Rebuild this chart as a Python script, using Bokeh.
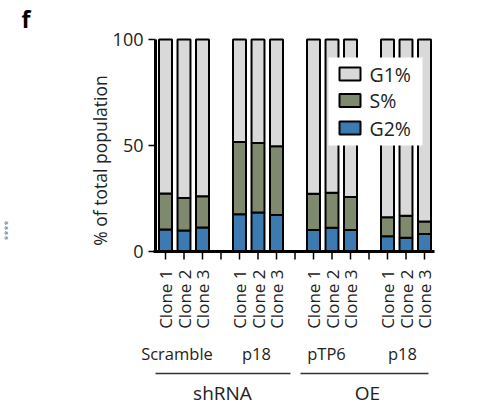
import math
from bokeh.plotting import figure
from bokeh.models import Range1d, ColumnDataSource
from bokeh.core.properties import value
from bokeh.embed import file_html
from bokeh.resources import INLINE

# ---- data ----
clones = ["Clone 1", "Clone 2", "Clone 3"]
constructs = ["Scramble", "p18", "pTP6", "p18"]
families = ["shRNA", "OE"]
phases = ["G1%", "S%", "G2%"]
g2_pct = [10.4, 9.9, 11.3, 17.6, 18.4, 17.2, 10.1, 11.2, 10.2, 7.2, 6.5, 8.2]
s_pct = [17.0, 15.3, 14.8, 34.1, 32.8, 32.4, 17.1, 16.5, 15.5, 9.0, 10.4, 6.0]
g1_pct = [72.6, 74.8, 73.9, 48.3, 48.8, 50.4, 72.8, 72.3, 74.3, 83.8, 83.1, 85.8]
y_ticks = [0, 50, 100]

colors = {"G1%": "#d9d9d9", "S%": "#7f896e", "G2%": "#3c7bb1"}
FONT = "Open Sans"

# ---- layout helpers (pixel -> data) ----
PX0, PXU = 165.0, 18.5
PY0, PYU = 251.0, 2.12
def dx(px):
    return (px - PX0) / PXU
def dy(py):
    return (PY0 - py) / PYU

W, H = 479, 405
p = figure(width=W, height=H, x_range=Range1d(dx(0), dx(W)), y_range=Range1d(dy(H), dy(0)),
           x_axis_type=None, y_axis_type=None, min_border=0, toolbar_location=None,
           output_backend="svg", outline_line_color=None,
           background_fill_color="white", border_fill_color="white")

# positions: 4 groups of 3 clones, one gap slot between groups
pos = []
labels = []
for gi in range(len(constructs)):
    for ci, c in enumerate(clones):
        pos.append(gi * 4 + ci)
        labels.append(c)

src = ColumnDataSource(dict(x=pos, g2=g2_pct, s=s_pct, g1=g1_pct))
p.vbar_stack(["g2", "s", "g1"], x="x", width=0.7, source=src,
             fill_color=[colors["G2%"], colors["S%"], colors["G1%"]],
             line_color="black", line_width=2)

# ---- y axis (drawn) ----
xa = dx(155)
p.segment(x0=[xa], y0=[dy(252)], x1=[xa], y1=[max(y_ticks)], line_color="black", line_width=3)
p.segment(x0=[dx(148)] * len(y_ticks), y0=y_ticks, x1=[xa] * len(y_ticks), y1=y_ticks,
          line_color="black", line_width=1.5)
p.text(x=[dx(143)] * len(y_ticks), y=y_ticks, text=[str(t) for t in y_ticks],
       text_font=value(FONT), text_font_size="18px", text_align="right",
       text_baseline="middle", text_color="#222222")
p.text(x=[dx(99)], y=[dy(160)], text=["% of total population"], angle=math.pi / 2,
       text_font=value(FONT), text_font_size="17.5px", text_align="center",
       text_baseline="middle", text_color="#222222")

# ---- x axis (drawn) ----
n_slots = len(constructs) * 4 - 1
p.segment(x0=[dx(153)], y0=[0], x1=[dx(434)], y1=[0], line_color="black", line_width=3)
slots = list(range(n_slots))
p.segment(x0=slots, y0=[0] * n_slots, x1=slots, y1=[dy(259)] * n_slots,
          line_color="black", line_width=1.5)
p.text(x=pos, y=[dy(269)] * len(pos), text=labels, angle=math.pi / 2,
       text_font=value(FONT), text_font_size="17px", text_align="right",
       text_baseline="middle", text_color="#222222")

# construct labels
grp_px = [176.5, 256, 326, 402]
p.text(x=[dx(v) for v in grp_px], y=[dy(353)] * 4, text=constructs,
       text_font=value(FONT), text_font_size="16.5px", text_align="center",
       text_baseline="middle", text_color="#222222")
# family lines and labels
p.segment(x0=[dx(155), dx(300)], y0=[dy(373)] * 2, x1=[dx(290), dx(428)], y1=[dy(373)] * 2,
          line_color="#333333", line_width=1.5)
p.text(x=[dx(222), dx(367)], y=[dy(392)] * 2, text=families,
       text_font=value(FONT), text_font_size="19px", text_align="center",
       text_baseline="middle", text_color="#222222")

# ---- legend (drawn) ----
p.quad(left=[dx(328)], right=[dx(422)], top=[dy(57)], bottom=[dy(145)],
       fill_color="white", line_color=None)
row_y = [73.5, 100, 127.5]
p.quad(left=[dx(339)] * 3, right=[dx(360)] * 3,
       top=[dy(r - 6.5) for r in row_y], bottom=[dy(r + 6.5) for r in row_y],
       fill_color=[colors[ph] for ph in phases], line_color="black", line_width=2)
p.text(x=[dx(369)] * 3, y=[dy(r) for r in row_y], text=phases,
       text_font=value(FONT), text_font_size="19.5px", text_align="left",
       text_baseline="middle", text_color="#222222")

# ---- panel letter and side mark ----
p.text(x=[dx(21)], y=[dy(18)], text=["f"], text_font=value(FONT), text_font_size="23px",
       text_font_style="bold", text_align="left", text_baseline="middle", text_color="black")
p.text(x=[dx(7)], y=[dy(230)], text=["****"], angle=math.pi / 2, text_font=value(FONT),
       text_font_size="9px", text_align="center", text_baseline="middle", text_color="#777777")

open("out.html", "w").write(file_html(p, INLINE))
